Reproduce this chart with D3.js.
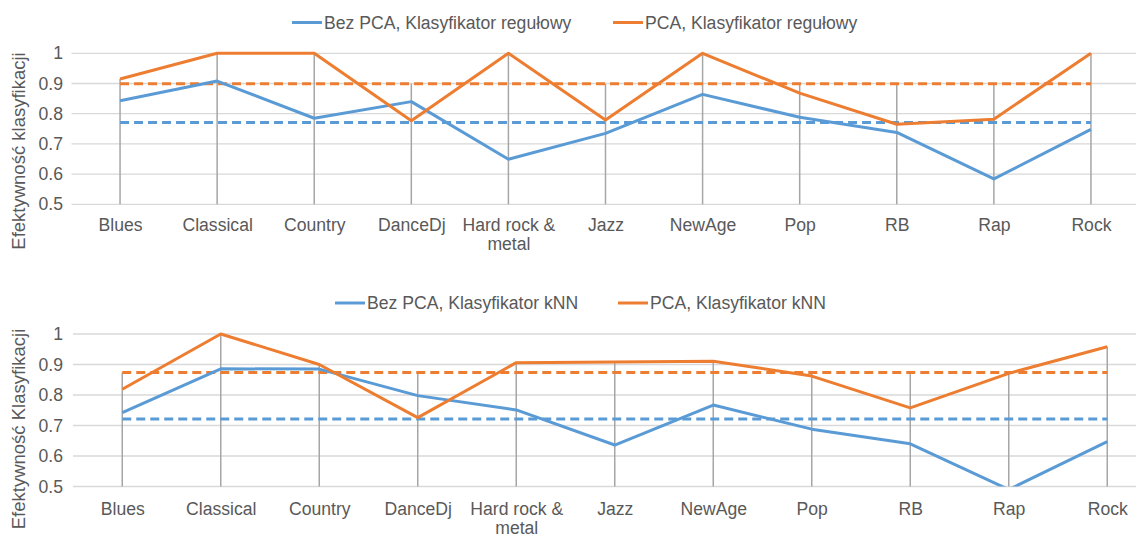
<!DOCTYPE html>
<html>
<head>
<meta charset="utf-8">
<script src="https://cdn.jsdelivr.net/npm/d3@7"></script>
<style>
  html, body { margin: 0; padding: 0; background: #ffffff; }
  svg { display: block; }
  text { font-family: "Liberation Sans", Arial, sans-serif; fill: #595959; }
</style>
</head>
<body>
<svg id="chart" width="1136" height="536"></svg>
<script>
// Genres on the category axis
const categories = ["Blues", "Classical", "Country", "DanceDj", "Hard rock & metal", "Jazz", "NewAge", "Pop", "RB", "Rap", "Rock"];

// Y axis ticks
const yTicks = [0.5, 0.6, 0.7, 0.8, 0.9, 1];

// Rule-based classifier: accuracy per genre
const ruleNoPca = [0.843, 0.908, 0.785, 0.840, 0.649, 0.735, 0.864, 0.788, 0.738, 0.584, 0.748];
const rulePca   = [0.915, 1.000, 1.000, 0.777, 1.000, 0.779, 1.000, 0.868, 0.765, 0.782, 1.000];
// Mean accuracy (dashed reference lines)
const ruleNoPcaMean = 0.771;
const rulePcaMean   = 0.899;

// kNN classifier: accuracy per genre
const knnNoPca = [0.742, 0.886, 0.885, 0.798, 0.751, 0.636, 0.767, 0.688, 0.640, 0.490, 0.647];
const knnPca   = [0.819, 1.000, 0.900, 0.726, 0.906, 0.908, 0.911, 0.862, 0.758, 0.871, 0.958];
const knnNoPcaMean = 0.721;
const knnPcaMean   = 0.874;

const BLUE = "#5b9bd5";
const ORANGE = "#ed7d31";
const FONT = 17.6;

const svg = d3.select("#chart");

function drawPanel(cfg) {
  const g = svg.append("g");
  const x = d3.scalePoint().domain(categories).range([cfg.x0, cfg.x1]).padding(0.5);
  const y = d3.scaleLinear().domain([0.5, 1]).range([cfg.yBottom, cfg.yTop]);

  // horizontal gridlines
  g.append("g").selectAll("line").data(yTicks).join("line")
    .attr("x1", cfg.x0).attr("x2", cfg.x1)
    .attr("y1", d => y(d)).attr("y2", d => y(d))
    .attr("stroke", "#d9d9d9").attr("stroke-width", 1.3);

  // y axis tick labels
  const yAxis = d3.axisLeft(y).tickValues(yTicks).tickFormat(d3.format("")).tickSize(0).tickPadding(0);
  const ya = g.append("g").attr("transform", `translate(${cfg.yLabelX},0)`).call(yAxis);
  ya.select(".domain").remove();
  ya.selectAll("text").attr("font-size", FONT).attr("fill", "#595959")
    .style("font-family", "'Liberation Sans', Arial, sans-serif");

  const series = [
    { values: cfg.noPca, color: BLUE, dash: null },
    { values: cfg.pca, color: ORANGE, dash: null },
    { values: categories.map(() => cfg.noPcaMean), color: BLUE, dash: "9,5" },
    { values: categories.map(() => cfg.pcaMean), color: ORANGE, dash: "9,5" }
  ];

  // drop lines from the highest series value down to the axis
  const tops = categories.map((c, i) => Math.min(1, d3.max(series, s => s.values[i])));
  g.append("g").selectAll("line").data(categories).join("line")
    .attr("x1", d => x(d)).attr("x2", d => x(d))
    .attr("y1", (d, i) => y(tops[i])).attr("y2", y(0.5))
    .attr("stroke", "#a6a6a6").attr("stroke-width", 1.5);

  // x axis category labels (long names wrap onto two lines)
  const xAxis = d3.axisBottom(x).tickSize(0).tickPadding(0);
  const xa = g.append("g").attr("transform", `translate(0,${cfg.yBottom})`).call(xAxis);
  xa.select(".domain").remove();
  xa.selectAll("text").attr("font-size", FONT).attr("fill", "#595959")
    .style("font-family", "'Liberation Sans', Arial, sans-serif")
    .attr("dy", null).attr("y", cfg.labelDy)
    .each(function (d) {
      const t = d3.select(this);
      const words = d.split(" ");
      if (words.length > 2) {
        t.text(null);
        t.append("tspan").attr("x", 0).attr("dy", 0).text(words.slice(0, 3).join(" "));
        t.append("tspan").attr("x", 0).attr("dy", 19).text(words.slice(3).join(" "));
      }
    });

  // clip the series to the plot area
  const clipId = "clip" + cfg.id;
  svg.append("clipPath").attr("id", clipId).append("rect")
    .attr("x", 0).attr("y", cfg.yTop - 10).attr("width", 1136).attr("height", cfg.yBottom - cfg.yTop + 10);

  const line = d3.line().x((d, i) => x(categories[i])).y(d => y(d));
  g.append("g").attr("clip-path", `url(#${clipId})`).selectAll("path")
    .data([series[2], series[3], series[0], series[1]]).join("path")
    .attr("d", s => line(s.values))
    .attr("fill", "none")
    .attr("stroke", s => s.color)
    .attr("stroke-width", 3)
    .attr("stroke-dasharray", s => s.dash)
    .attr("stroke-linejoin", "round");

  // legend
  const lg = g.append("g").attr("transform", `translate(0,${cfg.legendY})`);
  const items = [
    { label: cfg.labels[0], color: BLUE, x: cfg.legendX[0] },
    { label: cfg.labels[1], color: ORANGE, x: cfg.legendX[1] }
  ];
  items.forEach(it => {
    const ig = lg.append("g").attr("transform", `translate(${it.x},0)`);
    ig.append("line").attr("x1", 0).attr("x2", 30).attr("y1", 0).attr("y2", 0)
      .attr("stroke", it.color).attr("stroke-width", 3);
    ig.append("text").attr("x", 32).attr("y", 6).attr("font-size", FONT).text(it.label);
  });

  // y axis title
  g.append("text")
    .attr("transform", `translate(${cfg.titleX},${cfg.titleY}) rotate(-90)`)
    .attr("text-anchor", "middle")
    .attr("font-size", 18.5)
    .text(cfg.title);
}

drawPanel({
  id: "top", x0: 71.5, x1: 1139.5, yTop: 53.3, yBottom: 204.3, yLabelX: 63,
  labelDy: 27, legendY: 22.5, legendX: [292, 613], titleX: 25, titleY: 151,
  noPca: ruleNoPca, pca: rulePca, noPcaMean: ruleNoPcaMean, pcaMean: rulePcaMean,
  labels: ["Bez PCA, Klasyfikator regułowy", "PCA, Klasyfikator regułowy"],
  title: "Efektywność klasyfikacji"
});

drawPanel({
  id: "bottom", x0: 73, x1: 1156.5, yTop: 334, yBottom: 486.5, yLabelX: 63,
  labelDy: 28, legendY: 303, legendX: [335, 618], titleX: 25, titleY: 429,
  noPca: knnNoPca, pca: knnPca, noPcaMean: knnNoPcaMean, pcaMean: knnPcaMean,
  labels: ["Bez PCA, Klasyfikator kNN", "PCA, Klasyfikator kNN"],
  title: "Efektywność Klasyfikacji"
});
</script>
</body>
</html>
